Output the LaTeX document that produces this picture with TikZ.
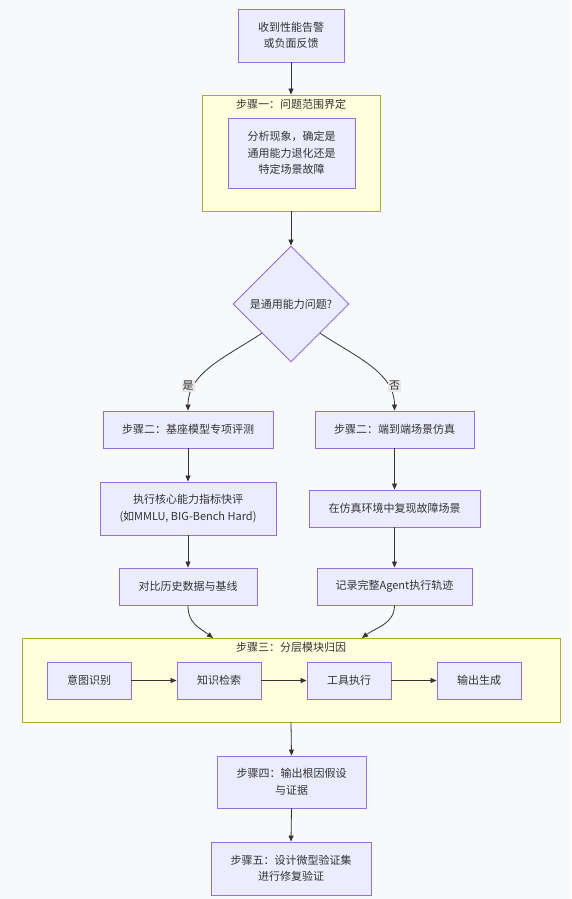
\documentclass[tikz,border=0pt]{standalone}
\usepackage{fontspec}
\setmainfont{Noto Sans CJK SC}
\usetikzlibrary{shapes.geometric,arrows.meta}
\definecolor{nodefill}{HTML}{ECECFF}
\definecolor{nodeline}{HTML}{9370DB}
\definecolor{clfill}{HTML}{FFFFDE}
\definecolor{clline}{HTML}{AAAA33}
\definecolor{edgec}{HTML}{333333}
\definecolor{bgc}{HTML}{F8F9FA}
\definecolor{lblbg}{HTML}{E8E8E8}
\definecolor{textc}{HTML}{333333}
\begin{document}
\begin{tikzpicture}[x=1pt,y=-1pt,
  font=\fontsize{11}{16.5}\selectfont,
  box/.style={draw=nodeline, fill=nodefill, line width=0.9pt, align=center, inner sep=0pt, text=textc},
  cluster/.style={draw=clline, fill=clfill, line width=0.9pt, inner sep=0pt},
  ctitle/.style={text=textc, inner sep=0pt},
  lbl/.style={fill=lblbg, text=textc, inner sep=1pt},
  arr/.style={draw=edgec, line width=0.8pt, -{Triangle[length=6pt,width=5pt]}}]
\fill[bgc] (0,0) rectangle (571,899);
\useasboundingbox (0,0) rectangle (571,899);

% top node
\node[box, minimum width=106, minimum height=53] (n1) at (291,35.5) {收到性能告警\\或负面反馈};

% cluster 1
\node[cluster, minimum width=178, minimum height=116] (c1) at (291,153) {};
\node[ctitle] (t1) at (291,104) {步骤一：问题范围界定};
\node[box, minimum width=127, minimum height=70] (n2) at (291.5,153) {分析现象，确定是\\通用能力退化还是\\特定场景故障};

% diamond
\node[box, diamond, aspect=1, minimum width=116, minimum height=116] (d) at (291,304) {是通用能力问题?};

% left branch
\node[box, minimum width=170, minimum height=37] (l1) at (188,429.5) {步骤二：基座模型专项评测};
\node[box, minimum width=176, minimum height=53] (l2) at (188,508.5) {执行核心能力指标快评\\(如MMLU, BIG-Bench Hard)};
\node[box, minimum width=138, minimum height=37] (l3) at (188,586.5) {对比历史数据与基线};

% right branch
\node[box, minimum width=159, minimum height=37] (r1) at (394.5,429.5) {步骤二：端到端场景仿真};
\node[box, minimum width=171, minimum height=37] (r2) at (394.5,508.5) {在仿真环境中复现故障场景};
\node[box, minimum width=155, minimum height=37] (r3) at (394.5,586.5) {记录完整Agent执行轨迹};

% cluster 3
\node[cluster, minimum width=538, minimum height=84] (c3) at (291,680) {};
\node[ctitle] (t3) at (291,647) {步骤三：分层模块归因};
\node[box, minimum width=84, minimum height=37] (m1) at (89,680.5) {意图识别};
\node[box, minimum width=84, minimum height=37] (m2) at (219,680.5) {知识检索};
\node[box, minimum width=84, minimum height=37] (m3) at (349,680.5) {工具执行};
\node[box, minimum width=84, minimum height=37] (m4) at (479,680.5) {输出生成};

% bottom
\node[box, minimum width=149, minimum height=52] (s4) at (291.5,782) {步骤四：输出根因假设\\与证据};
\node[box, minimum width=160, minimum height=53] (s5) at (291,868.5) {步骤五：设计微型验证集\\进行修复验证};

\coordinate (e1) at (213,638);
\coordinate (e2) at (362,638);

% edges
\draw[arr] (n1.south) -- (c1.north);
\draw[arr] (c1.south) -- (d.north);
\draw[arr] (d.south west) .. controls (228,356) and (188,372) .. (l1.north);
\draw[arr] (d.south east) .. controls (354,356) and (394.5,372) .. (r1.north);
\node[lbl] (ly) at (188,386) {是};
\node[lbl] (ln) at (394.5,386) {否};
\draw[arr] (l1.south) -- (l2.north);
\draw[arr] (l2.south) -- (l3.north);
\draw[arr] (r1.south) -- (r2.north);
\draw[arr] (r2.south) -- (r3.north);
\draw[arr] (l3.south) .. controls (188,624) and (200,628) .. (e1);
\draw[arr] (r3.south) .. controls (394.5,624) and (375,628) .. (e2);
\draw[arr] (m1.east) -- (m2.west);
\draw[arr] (m2.east) -- (m3.west);
\draw[arr] (m3.east) -- (m4.west);
\draw[arr] (c3.south) -- (s4.north);
\draw[arr] (s4.south) -- (s5.north);
\end{tikzpicture}
\end{document}
